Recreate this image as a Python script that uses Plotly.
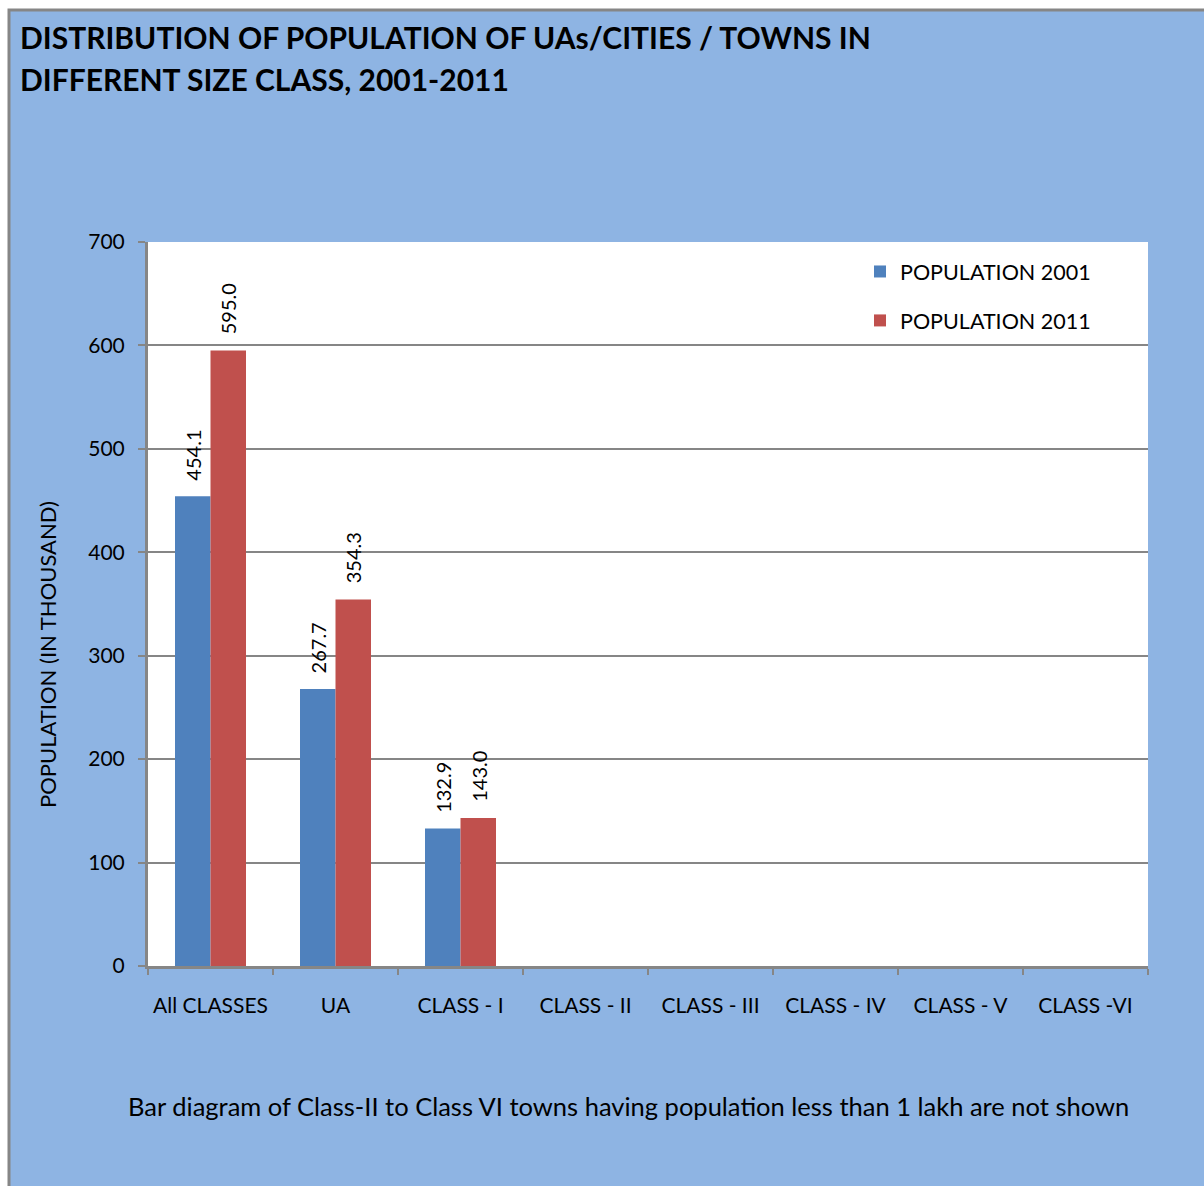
import plotly.graph_objects as go

categories = ["All CLASSES", "UA", "CLASS - I", "CLASS - II", "CLASS - III", "CLASS - IV", "CLASS - V", "CLASS -VI"]
pop_2001 = [454.1, 267.7, 132.9, None, None, None, None, None]
pop_2011 = [595.0, 354.3, 143.0, None, None, None, None, None]
series_names = ["POPULATION 2001", "POPULATION 2011"]
y_ticks = [0, 100, 200, 300, 400, 500, 600, 700]

W, H = 1204, 1186
L, R, T, B = 148, 56, 242, 220
PW, PH = W - L - R, H - T - B

def px_x(p):
    return (p - L) / PW

def px_y(p):
    return (H - B - p) / PH

FONT = "Lato"
BLUE = "#4F81BD"
RED = "#C0504D"
BG = "#8EB4E3"
GRAY = "#868686"

fig = go.Figure()
fig.add_trace(go.Bar(x=categories, y=pop_2001, name=series_names[0], legendgroup="a",
                     marker=dict(color=BLUE, line=dict(width=0))))
fig.add_trace(go.Bar(x=categories, y=pop_2011, name=series_names[1], legendgroup="b",
                     marker=dict(color=RED, line=dict(width=0))))

annotations = []
for vals, shift in [(pop_2001, -17.7), (pop_2011, 17.7)]:
    for c, v in zip(categories, vals):
        if v is None:
            continue
        annotations.append(dict(x=c, y=v, xref="x", yref="y", text=f"{v:.1f}", showarrow=False,
                                 textangle=-90, xshift=shift, yshift=14, xanchor="center", yanchor="bottom",
                                 font=dict(family=FONT, size=20, color="black")))

annotations.append(dict(x=px_x(47), y=px_y(655), xref="paper", yref="paper", text="POPULATION (IN THOUSAND)",
                        textangle=-90, showarrow=False, xanchor="center", yanchor="middle",
                        font=dict(family=FONT, size=22, color="black")))
annotations.append(dict(x=px_x(628), y=px_y(1106), xref="paper", yref="paper",
                        text="Bar diagram of Class-II to Class VI towns having population less than 1 lakh are not shown",
                        showarrow=False, xanchor="center", yanchor="middle",
                        font=dict(family=FONT, size=25.5, color="black")))
annotations.append(dict(x=px_x(18), y=px_y(37), xref="paper", yref="paper", xanchor="left", yanchor="middle",
                        text="<b>DISTRIBUTION OF POPULATION OF UAs/CITIES / TOWNS IN</b>",
                        showarrow=False, font=dict(family=FONT, size=30, color="black")))
annotations.append(dict(x=px_x(18), y=px_y(79), xref="paper", yref="paper", xanchor="left", yanchor="middle",
                        text="<b>DIFFERENT SIZE CLASS, 2001-2011</b>",
                        showarrow=False, font=dict(family=FONT, size=30, color="black")))

shapes = [
    dict(type="rect", xref="paper", yref="paper", x0=px_x(9), x1=px_x(1400), y0=px_y(1400), y1=px_y(10),
         fillcolor=BG, line=dict(color=GRAY, width=3), layer="below"),
    dict(type="rect", xref="paper", yref="paper", x0=0, x1=1, y0=0, y1=1,
         fillcolor="white", line=dict(width=0), layer="below"),
]

fig.update_layout(
    width=W, height=H,
    margin=dict(l=L, r=R, t=T, b=B),
    paper_bgcolor="white",
    plot_bgcolor="rgba(0,0,0,0)",
    barmode="group",
    bargap=0.432,
    bargroupgap=0,
    font=dict(family=FONT, size=21, color="black"),
    showlegend=True,
    legend=dict(x=px_x(860), y=px_y(251), xanchor="left", yanchor="top", bgcolor="rgba(0,0,0,0)",
                font=dict(family=FONT, size=21.5, color="black"), tracegroupgap=18, itemwidth=30),
    annotations=annotations,
    shapes=shapes,
)

fig.update_xaxes(type="category", showline=True, linecolor=GRAY, linewidth=3, ticks="outside", tickson="boundaries",
                 ticklen=6, tickwidth=2, tickcolor=GRAY, tickfont=dict(family=FONT, size=21, color="black"),
                 ticklabelstandoff=19, showgrid=False, zeroline=False)
fig.update_yaxes(range=[0, 700], tickvals=y_ticks, showline=True, linecolor=GRAY, linewidth=3, ticks="outside",
                 ticklen=7, tickwidth=2, tickcolor=GRAY, tickfont=dict(family=FONT, size=21, color="black"),
                 ticklabelstandoff=9, showgrid=True, gridcolor=GRAY, gridwidth=1.5, zeroline=False)

fig.write_html("out.html")
